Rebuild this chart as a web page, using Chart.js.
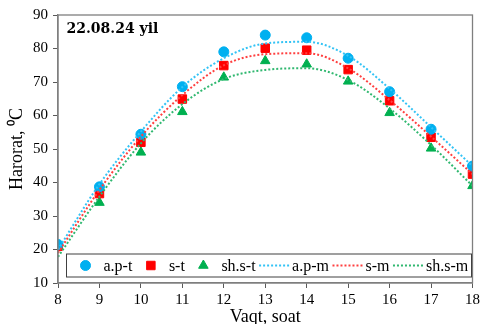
<!DOCTYPE html>
<html>
<head>
<meta charset="utf-8">
<script src="https://cdn.jsdelivr.net/npm/chart.js@4.4.1/dist/chart.umd.min.js"></script>
<style>
  html,body{margin:0;padding:0;background:#fff;}
  #wrap{width:483px;height:324px;}
</style>
</head>
<body>
<div id="wrap"><canvas id="c" width="483" height="324"></canvas></div>
<script>
// hours of the day
const hours = [8, 9, 10, 11, 12, 13, 14, 15, 16, 17, 18];

// measured temperatures (markers)
const apT   = [21.5, 38.7, 54.4, 68.6, 79.0, 84.0, 83.2, 77.1, 67.1, 55.9, 44.9];
const sT    = [21.0, 36.7, 52.0, 64.9, 74.9, 80.1, 79.5, 73.7, 64.4, 53.5, 42.5];
const shsT  = [21.0, 34.0, 49.0, 61.1, 71.4, 76.3, 75.3, 70.2, 60.8, 50.2, 39.0];

// model curves (dotted) at each hour
const apM   = [20.0, 39.5, 55.2, 68.5, 77.1, 81.5, 82.0, 77.8, 68.0, 56.5, 44.9];
const sM    = [19.0, 37.8, 53.7, 66.1, 75.0, 78.3, 78.6, 74.1, 64.6, 53.7, 42.5];
const shsM  = [17.8, 35.8, 51.7, 63.4, 70.9, 73.6, 74.1, 70.6, 62.1, 51.2, 39.0];

const BLUE = '#00B0F0', RED = '#FF0000', GREEN = '#00B050';

const pts = vals => hours.map((h, i) => ({x: h, y: vals[i]}));

const marker = (label, vals, color, style, r) => ({
  label, data: pts(vals), showLine: false, order: 1,
  pointStyle: style, pointRadius: r, pointHoverRadius: r,
  backgroundColor: color, borderColor: color, pointBorderWidth: 1
});
const model = (label, vals, color) => ({
  label, data: pts(vals), showLine: true, order: 0,
  borderColor: color, borderWidth: 2, borderDash: [2, 2],
  pointRadius: 0, cubicInterpolationMode: 'monotone', fill: false
});

Chart.defaults.font.family = '"Liberation Serif", "Times New Roman", serif';
Chart.defaults.color = '#000';

// frame, date label and boxed legend inside the plot
const extras = {
  id: 'extras',
  afterDatasetsDraw(chart) {
    const {ctx, chartArea: a} = chart;
    ctx.save();
    ctx.strokeStyle = '#7f7f7f';
    ctx.lineWidth = 1.3;
    ctx.strokeRect(a.left, a.top, a.right - a.left, a.bottom - a.top);

    ctx.fillStyle = '#000';
    ctx.font = 'bold 14px "DejaVu Serif"';
    ctx.textBaseline = 'alphabetic';
    ctx.fillText('22.08.24 yil', a.left + 8.5, a.top + 18);

    const L = a.left + 8.5, R = a.right - 1, T = a.bottom - 29, B = a.bottom - 6;
    ctx.fillStyle = '#fff';
    ctx.fillRect(L, T, R - L, B - T);
    ctx.strokeStyle = '#404040';
    ctx.lineWidth = 1;
    ctx.strokeRect(L, T, R - L, B - T);

    ctx.font = '16px "Liberation Serif"';
    ctx.textBaseline = 'middle';
    const cy = (T + B) / 2;
    let x = L + 4;
    chart.data.datasets.forEach(ds => {
      ctx.save();
      if (ds.showLine) {
        ctx.strokeStyle = ds.borderColor;
        ctx.lineWidth = ds.borderWidth;
        ctx.setLineDash(ds.borderDash);
        ctx.beginPath();
        ctx.moveTo(x, cy);
        ctx.lineTo(x + 30, cy);
        ctx.stroke();
      } else {
        ctx.fillStyle = ds.backgroundColor;
        ctx.strokeStyle = ds.borderColor;
        Chart.helpers.drawPoint(ctx, {pointStyle: ds.pointStyle, radius: ds.pointRadius, borderWidth: 1}, x + 15, cy);
      }
      ctx.restore();
      x += 33;
      ctx.fillStyle = '#000';
      ctx.fillText(ds.label, x, cy + 1);
      x += ctx.measureText(ds.label).width + 3.5;
    });
    ctx.restore();
  }
};

new Chart(document.getElementById('c'), {
  type: 'line',
  data: {
    datasets: [
      marker('a.p-t', apT, BLUE, 'circle', 5),
      marker('s-t', sT, RED, 'rect', 6),
      marker('sh.s-t', shsT, GREEN, 'triangle', 5.5),
      model('a.p-m', apM, '#33C3F5'),
      model('s-m', sM, '#FF4040'),
      model('sh.s-m', shsM, '#30B870')
    ]
  },
  options: {
    responsive: false,
    animation: false,
    layout: {padding: {top: 15, right: 9, left: 0, bottom: 0}},
    plugins: {legend: {display: false}, tooltip: {enabled: false}},
    scales: {
      x: {
        type: 'linear', min: 8, max: 18,
        ticks: {stepSize: 1, padding: 3, font: {size: 15}, color: '#000'},
        grid: {drawOnChartArea: false, tickLength: 5, tickColor: '#595959'},
        border: {color: '#7f7f7f', width: 1.3},
        title: {display: true, text: 'Vaqt, soat', font: {size: 18}, color: '#000', padding: {top: 0, bottom: -4}},
        afterFit(s) { s.height = 41; }
      },
      y: {
        min: 10, max: 90,
        ticks: {stepSize: 10, padding: 5, font: {size: 15}, color: '#000'},
        grid: {drawOnChartArea: false, tickLength: 5, tickColor: '#595959'},
        border: {color: '#7f7f7f', width: 1.3},
        title: {display: true, text: 'Harorat, \u2070C', font: {size: 18}, color: '#000', padding: {top: 6, bottom: 0}},
        afterFit(s) { s.width = 58; }
      }
    }
  },
  plugins: [extras]
});
</script>
</body>
</html>
